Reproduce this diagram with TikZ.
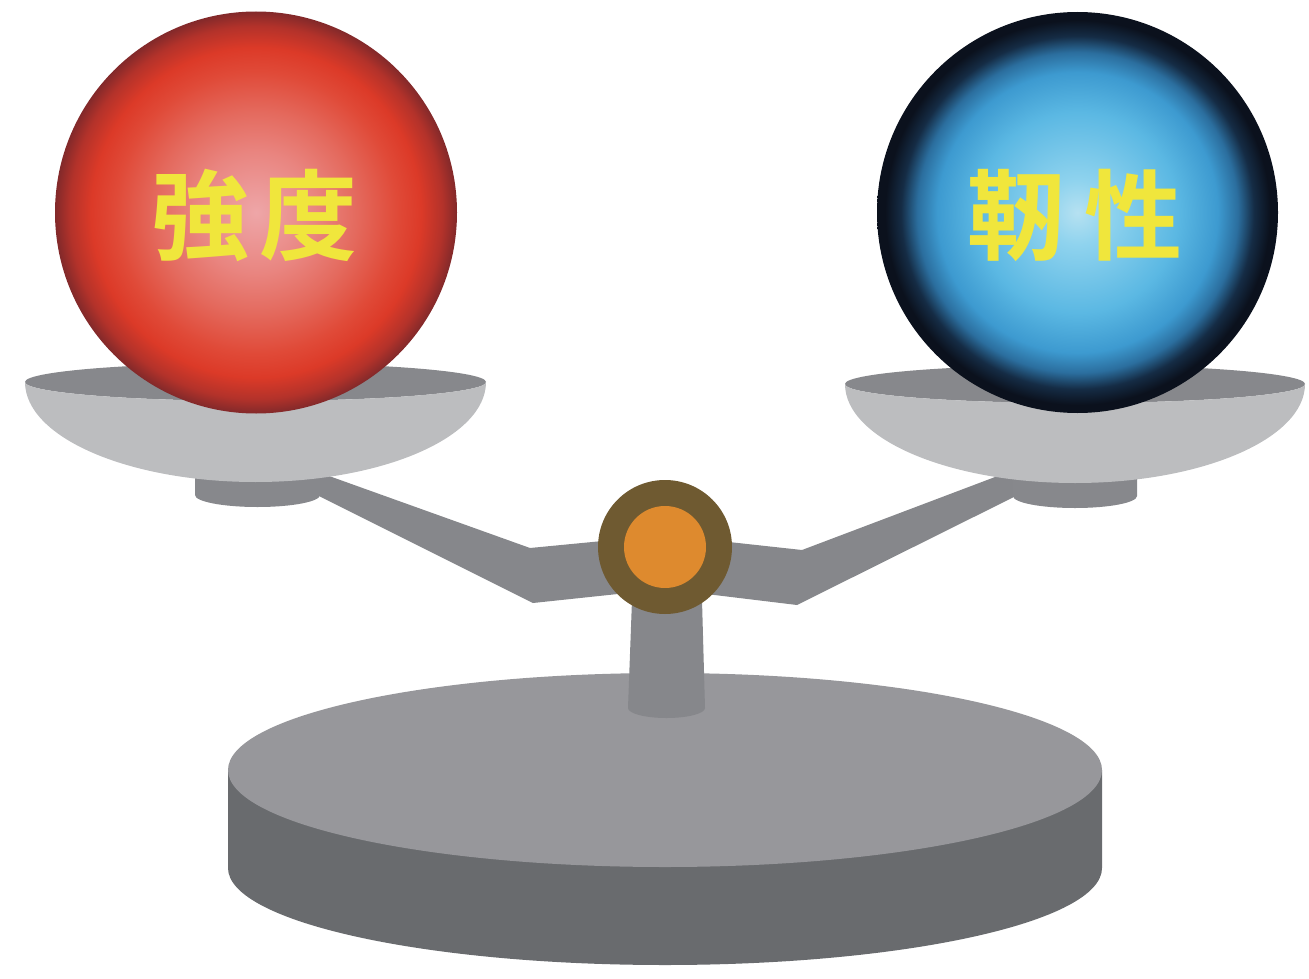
\documentclass[tikz,border=0pt]{standalone}
\usepackage{fontspec}
\newfontfamily\jpfont{Noto Sans CJK JP}[BoldFont={* Bold}]

% palette
\definecolor{baseTop}{HTML}{97979B}
\definecolor{baseSide}{HTML}{696B6E}
\definecolor{metal}{HTML}{86878B}
\definecolor{panLight}{HTML}{BCBDBF}
\definecolor{panDark}{HTML}{87888C}
\definecolor{pivotRing}{HTML}{6F5A31}
\definecolor{pivotCore}{HTML}{DE8A2E}
\definecolor{labelYellow}{HTML}{F0E63C}

\definecolor{rA}{HTML}{EEA6A8}
\definecolor{rB}{HTML}{E98580}
\definecolor{rC}{HTML}{E46A5E}
\definecolor{rD}{HTML}{E04A38}
\definecolor{rE}{HTML}{DC3A28}
\definecolor{rF}{HTML}{B3322A}
\definecolor{rG}{HTML}{82292A}

\definecolor{bA}{HTML}{B6E1F1}
\definecolor{bB}{HTML}{8FD3EE}
\definecolor{bC}{HTML}{5BB8E3}
\definecolor{bD}{HTML}{3D9AD0}
\definecolor{bE}{HTML}{2B6E9E}
\definecolor{bF}{HTML}{152C45}
\definecolor{bG}{HTML}{0B111D}

% sphere shadings (25bp corresponds to the rim)
\pgfdeclareradialshading{redsphere}{\pgfpoint{0bp}{0bp}}{%
  color(0bp)=(rA); color(7.5bp)=(rB); color(12.5bp)=(rC);
  color(17.5bp)=(rD); color(20.5bp)=(rE); color(23.2bp)=(rF);
  color(25bp)=(rG); color(50bp)=(rG)}
\pgfdeclareradialshading{bluesphere}{\pgfpoint{0bp}{0bp}}{%
  color(0bp)=(bA); color(4bp)=(bB); color(12.5bp)=(bC);
  color(17.5bp)=(bD); color(20bp)=(bE); color(22bp)=(bF);
  color(24bp)=(bG); color(50bp)=(bG)}

\tikzset{
  label text/.style={text=labelYellow, inner sep=0pt, anchor=base,
    font=\jpfont\bfseries\fontsize{98}{110}\selectfont},
}

\begin{document}
\begin{tikzpicture}[x=1pt, y=-1pt]
\useasboundingbox (0,0) rectangle (1309,979);

% ---- base plate ----
\fill[baseSide] (228,770) -- (228,868)
  arc[start angle=180, end angle=0, x radius=437, y radius=97]
  -- (1102,770) -- cycle;
\fill[baseTop] (665,770) ellipse[x radius=437, y radius=97];

% ---- post ----
\fill[metal] (632,600) -- (702,600) -- (705,708)
  arc[start angle=0, end angle=180, x radius=38.5, y radius=10]
  -- cycle;

% ---- beam ----
\fill[metal] (290,462) -- (530,548) -- (665,535) -- (802,550)
  -- (1040,460) -- (1040,484) -- (797,605) -- (665,589)
  -- (533,603) -- (290,481.5) -- cycle;

% ---- pan feet ----
\fill[panDark] (195,465) -- (320,465) -- (320,495)
  arc[start angle=0, end angle=180, x radius=62.5, y radius=12] -- cycle;
\fill[panDark] (1013,465) -- (1137,465) -- (1137,496)
  arc[start angle=0, end angle=180, x radius=62, y radius=12] -- cycle;

% ---- left pan ----
\fill[panDark] (255.5,382) ellipse[x radius=230.5, y radius=19];
\fill[panLight] (25,382)
  arc[start angle=180, end angle=0, x radius=230.5, y radius=100]
  arc[start angle=0, end angle=180, x radius=230.5, y radius=19] -- cycle;

% ---- right pan ----
\fill[panDark] (1075,384) ellipse[x radius=230, y radius=19];
\fill[panLight] (845,384)
  arc[start angle=180, end angle=0, x radius=230, y radius=99]
  arc[start angle=0, end angle=180, x radius=230, y radius=19] -- cycle;

% ---- spheres ----
\shade[shading=redsphere] (256,212.5) circle[radius=201];
\shade[shading=bluesphere] (1077.5,212.5) circle[radius=200.5];

% ---- labels ----
\node[label text] (s1) at (200,252) {強};
\node[label text] (s2) at (308,252) {度};
\node[label text] (t1) at (1016,252) {靭};
\node[label text] (t2) at (1133,252) {性};

% ---- pivot ----
\fill[pivotRing] (665,547) circle[radius=67];
\fill[pivotCore] (665,547) circle[radius=41];
\end{tikzpicture}
\end{document}
